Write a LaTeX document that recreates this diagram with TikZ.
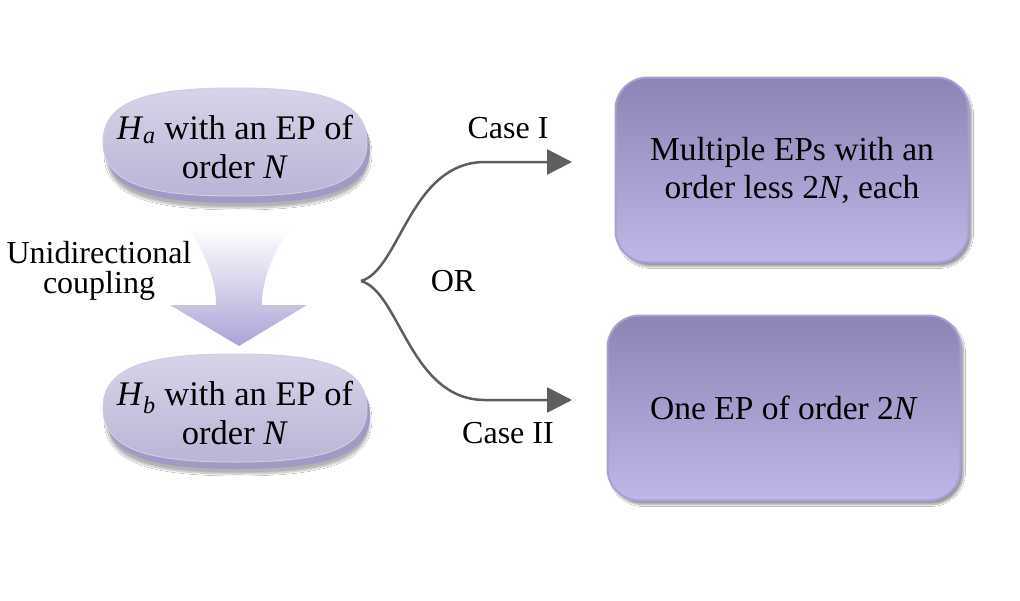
\documentclass[tikz,border=0pt]{standalone}
\usepackage{fontspec}
\setmainfont{LiberationSerif-Regular.ttf}[ItalicFont=LiberationSerif-Italic.ttf,
  BoldFont=LiberationSerif-Bold.ttf]
\usetikzlibrary{shadows,shadows.blur,arrows.meta,positioning,calc}

\definecolor{pilltop}{HTML}{D6D4E9}
\definecolor{pillbot}{HTML}{B9B5D6}
\definecolor{pillrim}{HTML}{A09BC4}
\definecolor{boxtop}{HTML}{8C84B4}
\definecolor{boxmid}{HTML}{9A92C4}
\definecolor{boxbot}{HTML}{BFB7E8}
\definecolor{boxrim}{HTML}{A79FD6}
\definecolor{flowpurple}{HTML}{ABA3D6}
\definecolor{forkgray}{HTML}{5E5E5E}

\newcommand{\ham}[1]{\textit{H}\textsubscript{\textit{#1}}}
% rounded cushion outline round a centre
\newcommand{\pillpath}[1]{($(#1)+(-132,0)$) .. controls +(0,-42) and +(-85,0) .. ($(#1)+(0,-54)$)
  .. controls +(85,0) and +(0,-42) .. ($(#1)+(132,0)$)
  .. controls +(0,42) and +(85,0) .. ($(#1)+(0,54)$)
  .. controls +(-85,0) and +(0,42) .. cycle}

\begin{document}
\begin{tikzpicture}[x=1pt,y=-1pt]
        \tikzset{pill/.style={draw=pillrim!50,line width=1pt,top color=pilltop,bottom color=pillbot,
            blur shadow={shadow xshift=3pt,shadow yshift=-12pt,shadow blur steps=10,shadow opacity=30},
            general shadow={fill=pillrim,shadow yshift=-7pt}},
          pilltext/.style={align=center,font=\fontsize{34.5}{39}\selectfont},
          result/.style={rounded corners=32pt,minimum width=353pt,minimum height=185pt,
            draw=boxrim,line width=2pt,top color=boxtop,middle color=boxmid,bottom color=boxbot,
            blur shadow={shadow xshift=3pt,shadow yshift=-4pt,shadow blur steps=10},
            align=center,font=\fontsize{33.5}{38}\selectfont},
          label/.style={font=\fontsize{32}{30}\selectfont,align=center},
          fork/.style={draw=forkgray,line width=2.5pt,-{Triangle[length=25pt,width=25pt]}}}
        \fill[white] (0,0) rectangle (1020,600);
        \useasboundingbox (0,0) rectangle (1020,600);
        % coupling arrow
        \shade[top color=white,bottom color=flowpurple]
          (188,228) .. controls (206,255) and (216,280) .. (216,305) -- (170,305) -- (239,346)
          -- (307,305) -- (262,305) .. controls (262,280) and (272,255) .. (290,228) -- cycle;
        \coordinate (pa) at (235,142);
        \coordinate (pb) at (235,408);
        \path[pill] \pillpath{pa};
        \path[pill] \pillpath{pb};
        \node[pilltext] (ha) at ($(pa)+(0,5)$) {\ham{a} with an EP of\\order \textit{N}};
        \node[pilltext] (hb) at ($(pb)+(0,5)$) {\ham{b} with an EP of\\order \textit{N}};
        \node[label] (uc) at (99,271) {Unidirectional\\coupling};
        \node[result] (many) at (792,170) {Multiple EPs with an\\order less 2\textit{N}, each};
        \node[result] (one) at (784,408) {One EP of order 2\textit{N}};
        \coordinate (split) at (361,281);
        \coordinate (up) at (572,162);
        \coordinate (down) at (572,400);
        \draw[fork] (split) .. controls (400,270) and (410,162) .. (485,162) -- (up);
        \draw[fork] (split) .. controls (400,292) and (410,400) .. (485,400) -- (down);
        \node[label] (c1) at (508,128) {Case I};
        \node[label] (or) at (453,281) {OR};
        \node[label] (c2) at (508,433) {Case II};
      \end{tikzpicture}
\end{document}
